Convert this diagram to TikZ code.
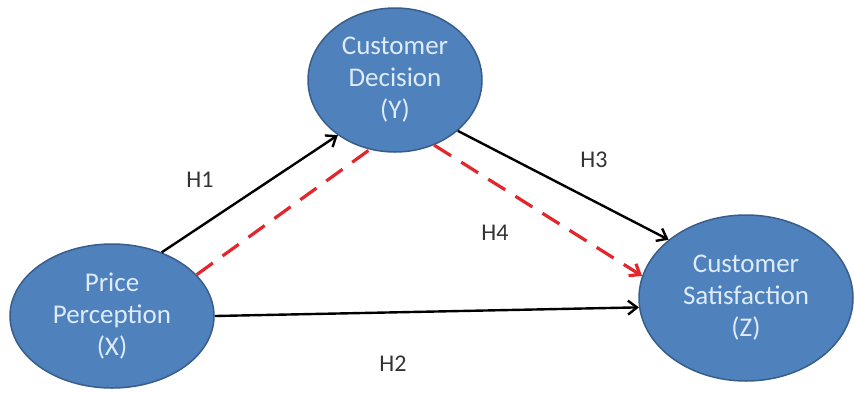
\documentclass[tikz,border=0pt]{standalone}
\usepackage{fontspec}
\setmainfont{Carlito}
\usetikzlibrary{shapes.geometric, arrows.meta, positioning}
\definecolor{cBlue}{RGB}{79,129,189}
\definecolor{cEdge}{RGB}{56,93,138}
\definecolor{cText}{RGB}{222,236,250}
\definecolor{cRed}{RGB}{226,38,44}

\begin{document}
\begin{tikzpicture}[x=1pt, y=-1pt, >={Straight Barb[length=9pt, width=14pt]},
    var/.style={ellipse, draw=cEdge, line width=1.5pt, fill=cBlue, text=cText,
        align=center, inner sep=0pt, font=\fontsize{27}{32}\selectfont},
    hyp/.style={font=\fontsize{24}{28}\selectfont, text=black!80},
    link/.style={line width=2.4pt, ->},
    med/.style={line width=3.2pt, cRed, dash pattern=on 20pt off 12pt}]

    \useasboundingbox (0,0) rectangle (854,392);

    % --- Variables ---
    \node[var, minimum width=204pt, minimum height=144pt] (px) at (112,316) {Price\\Perception\\(X)};
    \node[var, minimum width=174pt, minimum height=144pt] (py) at (395,80) {Customer\\Decision\\(Y)};
    \node[var, minimum width=214pt, minimum height=166pt] (pz) at (746,298) {Customer\\Satisfaction\\(Z)};

    % --- Direct paths ---
    \draw[link] (px.52) -- (py.224);
    \draw[link] (px.east) -- (pz.185);
    \draw[link] (py.321) -- (pz.143);

    % --- Mediation path (red, dashed) ---
    \draw[med] (px.26) -- (py.250);
    \draw[med, ->] (py.301) -- (pz.168);

    % --- Hypothesis labels ---
    \node[hyp] (h1) at (200,180) {H1};
    \node[hyp] (h2) at (393,364) {H2};
    \node[hyp] (h3) at (594,160) {H3};
    \node[hyp] (h4) at (495,233) {H4};

\end{tikzpicture}
\end{document}
